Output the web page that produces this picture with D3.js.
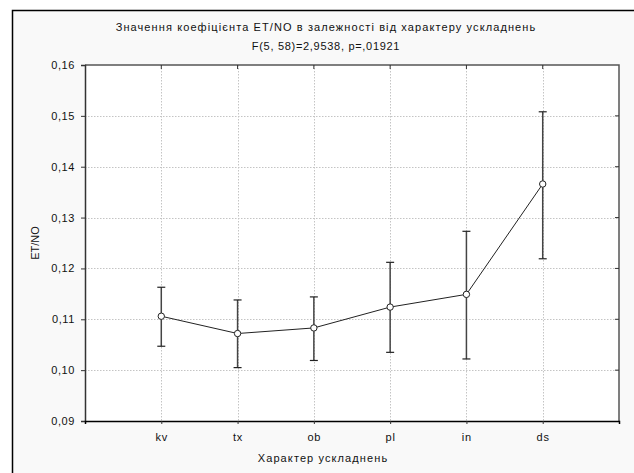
<!DOCTYPE html>
<html>
<head>
<meta charset="utf-8">
<script src="https://cdn.jsdelivr.net/npm/d3@7"></script>
<style>
  body { margin: 0; background: #fff; }
  svg text { font-family: "Liberation Sans", Arial, sans-serif; fill: #111; }
</style>
</head>
<body>
<svg id="chart"></svg>
<script>
// data
const categories = ['kv', 'tx', 'ob', 'pl', 'in', 'ds']
const means = [0.1106, 0.1072, 0.1083, 0.1124, 0.1149, 0.1366]
const upper = [0.1163, 0.1138, 0.1144, 0.1212, 0.1273, 0.1508]
const lower = [0.1047, 0.1005, 0.1019, 0.1035, 0.1022, 0.1219]
const yTicks = [0.09, 0.10, 0.11, 0.12, 0.13, 0.14, 0.15, 0.16]
const titleLines = ['Значення коефіцієнта ET/NO в залежності від характеру ускладнень', 'F(5, 58)=2,9538, p=,01921']

const width = 634, height = 473
const margin = { top: 65, right: 15, bottom: 52, left: 85 }

const svg = d3.select('#chart').attr('width', width).attr('height', height)

// outer panel
svg.append('rect').attr('x', 0).attr('y', 0).attr('width', width).attr('height', height).attr('fill', '#fff')
svg.append('rect').attr('x', 12).attr('y', 10).attr('width', width - 12).attr('height', height)
  .attr('fill', '#f9f9f9')
svg.append('path').attr('d', `M12.5,${height} V10.5 H${width}`)
  .attr('fill', 'none').attr('stroke', '#000').attr('stroke-width', 1.5)

const x = d3.scaleLinear().domain([0, categories.length + 1]).range([margin.left, width - margin.right])
const y = d3.scaleLinear().domain([0.09, 0.16]).range([height - margin.bottom, margin.top])

const g = svg.append('g')

g.append('rect')
  .attr('x', x(0)).attr('y', y(0.16))
  .attr('width', x(7) - x(0)).attr('height', y(0.09) - y(0.16))
  .attr('fill', '#fff')

// grid
g.selectAll('.hgrid').data(yTicks.slice(1, -1)).join('line')
  .attr('x1', x(0)).attr('x2', x(7))
  .attr('y1', d => Math.round(y(d)) + 0.5).attr('y2', d => Math.round(y(d)) + 0.5)
  .attr('stroke', '#c4c4c4').attr('stroke-dasharray', '1.5,1.5')
g.selectAll('.vgrid').data(categories).join('line')
  .attr('x1', (d, i) => Math.round(x(i + 1)) + 0.5).attr('x2', (d, i) => Math.round(x(i + 1)) + 0.5)
  .attr('y1', y(0.16)).attr('y2', y(0.09))
  .attr('stroke', '#c4c4c4').attr('stroke-dasharray', '1.5,1.5')

// frame: top/right gray, left/bottom dark
g.append('path')
  .attr('d', `M${x(0)},${y(0.16)} H${x(7)} V${y(0.09)}`)
  .attr('fill', 'none').attr('stroke', '#555').attr('stroke-width', 1.5)

const yAxis = d3.axisLeft(y).tickValues(yTicks).tickSize(4).tickPadding(6)
  .tickFormat(d => d3.format('.2f')(d).replace('.', ','))
const ya = g.append('g').attr('transform', `translate(${x(0)},0)`).call(yAxis)
ya.select('.domain').attr('stroke', '#333').attr('stroke-width', 1.5)
ya.selectAll('.tick line').attr('stroke', '#333')
ya.selectAll('text').attr('font-size', 11).attr('letter-spacing', '0.6px')

// inward ticks on right side
g.selectAll('.rtick').data(yTicks.slice(1, -1)).join('line')
  .attr('x1', x(7) - 4).attr('x2', x(7))
  .attr('y1', d => y(d)).attr('y2', d => y(d))
  .attr('stroke', '#333')
g.selectAll('.ttick').data(categories).join('line')
  .attr('x1', (d, i) => x(i + 1)).attr('x2', (d, i) => x(i + 1))
  .attr('y1', y(0.16)).attr('y2', y(0.16) + 4)
  .attr('stroke', '#333')

const xAxis = d3.axisBottom(x).tickValues(d3.range(1, categories.length + 1))
  .tickSize(3).tickPadding(9).tickFormat(d => categories[d - 1])
const xa = g.append('g').attr('transform', `translate(0,${y(0.09)})`).call(xAxis)
xa.select('.domain').attr('stroke', '#000').attr('stroke-width', 1.5)
xa.selectAll('.tick line').attr('stroke', '#333')
xa.selectAll('text').attr('font-size', 11).attr('letter-spacing', '0.8px')

// error bars
const bars = g.selectAll('.err').data(categories).join('g')
bars.append('line')
  .attr('x1', (d, i) => x(i + 1)).attr('x2', (d, i) => x(i + 1))
  .attr('y1', (d, i) => y(upper[i])).attr('y2', (d, i) => y(lower[i]))
  .attr('stroke', '#444').attr('stroke-width', 1.5)
bars.append('line')
  .attr('x1', (d, i) => x(i + 1) - 4).attr('x2', (d, i) => x(i + 1) + 4)
  .attr('y1', (d, i) => y(upper[i])).attr('y2', (d, i) => y(upper[i]))
  .attr('stroke', '#222').attr('stroke-width', 1.2)
bars.append('line')
  .attr('x1', (d, i) => x(i + 1) - 4).attr('x2', (d, i) => x(i + 1) + 4)
  .attr('y1', (d, i) => y(lower[i])).attr('y2', (d, i) => y(lower[i]))
  .attr('stroke', '#222').attr('stroke-width', 1.2)

// mean line
const line = d3.line().x((d, i) => x(i + 1)).y(d => y(d))
g.append('path').datum(means).attr('d', line)
  .attr('fill', 'none').attr('stroke', '#222').attr('stroke-width', 1)
g.selectAll('.pt').data(means).join('circle')
  .attr('cx', (d, i) => x(i + 1)).attr('cy', d => y(d)).attr('r', 3.2)
  .attr('fill', '#fff').attr('stroke', '#222').attr('stroke-width', 1)

// titles
svg.selectAll('.title').data(titleLines).join('text')
  .attr('x', 326).attr('y', (d, i) => 31 + i * 19)
  .attr('text-anchor', 'middle').attr('font-size', 11)
  .attr('letter-spacing', (d, i) => i === 0 ? '1.1px' : '0.7px')
  .text(d => d)

svg.append('text').attr('x', 323).attr('y', 462)
  .attr('text-anchor', 'middle').attr('font-size', 11).attr('letter-spacing', '1.1px')
  .text('Характер ускладнень')

svg.append('text')
  .attr('transform', `translate(39,${(y(0.16) + y(0.09)) / 2}) rotate(-90)`)
  .attr('text-anchor', 'middle').attr('font-size', 11)
  .text('ET/NO')
</script>
</body>
</html>
